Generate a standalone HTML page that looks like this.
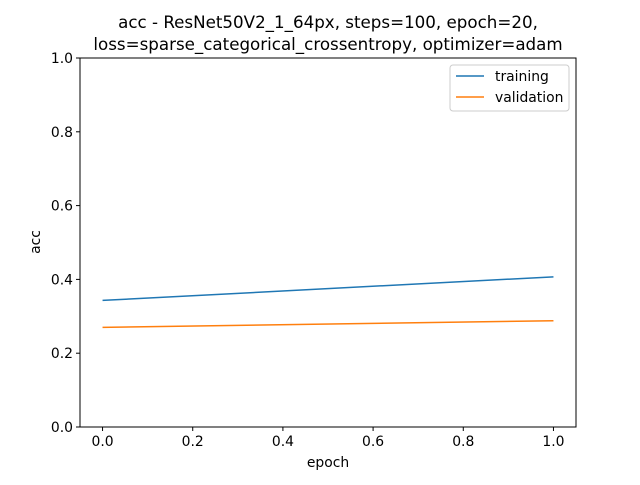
<!DOCTYPE html>
<html><head><meta charset="utf-8"><style>
body{margin:0;background:#fff;}
svg text{font-family:"DejaVu Sans","Liberation Sans",sans-serif;fill:#000;}
</style></head><body>
<svg id="chart" width="640" height="480" viewBox="0 0 640 480" xmlns="http://www.w3.org/2000/svg">
<rect width="640" height="480" fill="#fff"/>
<text x="328" y="28" font-size="16.7" text-anchor="middle">acc - ResNet50V2_1_64px, steps=100, epoch=20,</text>
<text x="328" y="50" font-size="16.7" text-anchor="middle">loss=sparse_categorical_crossentropy, optimizer=adam</text>
<g id="axes"></g>
<rect x="80" y="58" width="496" height="369" fill="none" stroke="#000" stroke-width="1"/>
<text x="328" y="467" font-size="13.9" text-anchor="middle">epoch</text>
<text x="40" y="242" font-size="13.9" text-anchor="middle" transform="rotate(-90 40 242)">acc</text>
<g>
<rect x="450" y="65" width="119" height="46" rx="3" fill="#fff" stroke="#ccc"/>
<line x1="456" y1="76" x2="484" y2="76" stroke="#1f77b4" stroke-width="1.5"/>
<text x="495" y="81" font-size="13.9">training</text>
<line x1="456" y1="97" x2="484" y2="97" stroke="#ff7f0e" stroke-width="1.5"/>
<text x="495" y="102" font-size="13.9">validation</text>
</g>
</svg>
<script>
const epochs=[0,1];
const training=[0.343,0.407];
const validation=[0.270,0.288];
const xTicks=[0,0.2,0.4,0.6,0.8,1.0];
const yTicks=[0,0.2,0.4,0.6,0.8,1.0];
const L=80,R=576,T=58,B=427;
const xs=v=>L+(v+0.05)/1.1*(R-L);
const ys=v=>B-v*(B-T);
const NS="http://www.w3.org/2000/svg";
const g=document.getElementById('axes');
function mk(t,a){const e=document.createElementNS(NS,t);for(const k in a)e.setAttribute(k,a[k]);g.appendChild(e);return e;}
xTicks.forEach(v=>{
 const l=mk('line',{x1:xs(v),x2:xs(v),y1:B,y2:B+4,stroke:'#000'});
 
 
 const t=mk('text',{x:xs(v),y:B+19,'font-size':13.9,'text-anchor':'middle'});
 t.textContent=v.toFixed(1);
 
 
});
yTicks.forEach(v=>{
 const l=mk('line',{x1:L-4,x2:L,y1:ys(v),y2:ys(v),stroke:'#000'});
 
 
 const t=mk('text',{x:L-7,y:ys(v)+5,'font-size':13.9,'text-anchor':'end'});
 t.textContent=v.toFixed(1);
 
 
});
function line(vals,color,name){
 const p=mk('polyline',{points:vals.map((v,i)=>xs(epochs[i])+','+ys(v)).join(' '),fill:'none',stroke:color,'stroke-width':1.5});
 
 
}
line(training,'#1f77b4','training-line');
line(validation,'#ff7f0e','validation-line');
</script>
</body></html>
